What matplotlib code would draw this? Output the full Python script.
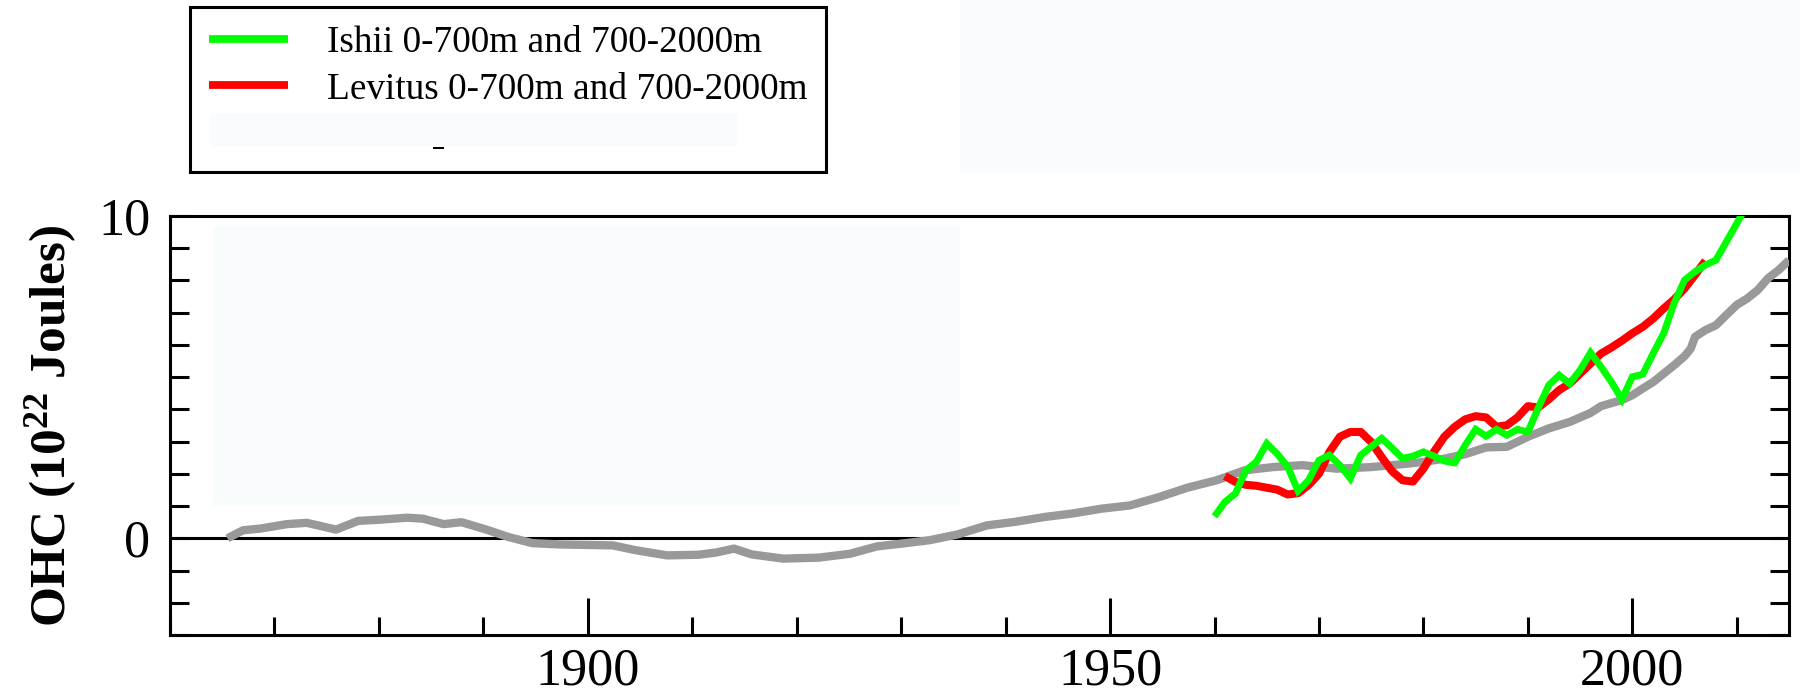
from __future__ import annotations

import matplotlib

matplotlib.use("Agg")
import matplotlib.pyplot as plt
from matplotlib.lines import Line2D
from matplotlib.patches import Rectangle
from matplotlib.ticker import FixedLocator, MultipleLocator

# Long-term ocean heat content reconstruction (10^22 J)
BASE_YEARS = [
    1865.5, 1867.0, 1868.6, 1871.2, 1873.1, 1875.9, 1878.0, 1880.2, 1882.7, 1884.2,
    1886.2, 1887.9, 1890.0, 1892.4, 1894.7, 1897.3, 1902.4, 1904.6, 1907.6, 1910.6,
    1912.3, 1914.0, 1915.7, 1918.7, 1922.1, 1925.1, 1927.7, 1929.9, 1932.7, 1935.4,
    1938.2, 1940.9, 1943.7, 1946.4, 1949.2, 1951.9, 1954.7, 1957.4, 1960.2, 1962.9,
    1965.6, 1968.4, 1971.7, 1975.0, 1978.0, 1980.0, 1982.0, 1984.0, 1986.0, 1988.0,
    1990.0, 1992.0, 1994.0, 1996.0, 1997.0, 1999.0, 2000.0, 2001.0, 2002.0, 2003.0,
    2004.0, 2005.0, 2005.6, 2006.0, 2007.0, 2008.0, 2009.0, 2010.0, 2011.0, 2012.0,
    2013.0, 2014.0, 2015.0,
]
BASE_OHC = [
    0.00, 0.25, 0.30, 0.44, 0.48, 0.27, 0.54, 0.58, 0.64, 0.61,
    0.44, 0.50, 0.30, 0.04, -0.15, -0.19, -0.22, -0.37, -0.53, -0.51,
    -0.44, -0.32, -0.50, -0.63, -0.60, -0.48, -0.25, -0.17, -0.06, 0.12,
    0.40, 0.51, 0.66, 0.77, 0.92, 1.02, 1.28, 1.57, 1.80, 2.11,
    2.21, 2.27, 2.16, 2.21, 2.30, 2.37, 2.47, 2.61, 2.82, 2.84,
    3.15, 3.41, 3.61, 3.89, 4.10, 4.29, 4.44, 4.65, 4.85, 5.11,
    5.37, 5.65, 5.89, 6.25, 6.46, 6.61, 6.93, 7.24, 7.44, 7.70,
    8.07, 8.32, 8.63,
]

ISHII_YEARS = list(range(1960, 2012))
ISHII_OHC = [
    0.68, 1.13, 1.39, 2.11, 2.37, 2.94, 2.62, 2.22, 1.47, 1.80,
    2.42, 2.58, 2.27, 1.86, 2.58, 2.84, 3.10, 2.80, 2.48, 2.55,
    2.68, 2.55, 2.40, 2.34, 2.89, 3.38, 3.17, 3.38, 3.20, 3.38,
    3.30, 4.05, 4.75, 5.06, 4.80, 5.22, 5.76, 5.32, 4.85, 4.31,
    5.01, 5.09, 5.74, 6.36, 7.29, 8.01, 8.27, 8.48, 8.63, 9.20,
    9.77, 10.35,
]

LEVITUS_YEARS = list(range(1961, 2008))
LEVITUS_OHC = [
    1.93, 1.75, 1.66, 1.63, 1.57, 1.51, 1.36, 1.40, 1.65, 2.00,
    2.68, 3.15, 3.30, 3.30, 2.99, 2.52, 2.08, 1.80, 1.76, 2.16,
    2.68, 3.15, 3.46, 3.69, 3.79, 3.75, 3.46, 3.51, 3.75, 4.10,
    4.06, 4.31, 4.60, 4.80, 5.11, 5.42, 5.73, 5.92, 6.13, 6.36,
    6.56, 6.82, 7.13, 7.41, 7.75, 8.17, 8.61,
]

LEGEND_LABELS = ["Ishii 0-700m and 700-2000m", "Levitus 0-700m and 700-2000m"]
X_LABELED_TICKS = [1900, 1950, 2000]
Y_LABELED_TICKS = [0, 10]
Y_LABEL = r"OHC (10$^{22}$ Joules)"

FIG_W, FIG_H, DPI = 1800, 694, 100
SERIF = "Liberation Serif"
PALE = "#f8fcfd"
LW_FRAME = 2.2


def px_box(x0: float, y0: float, x1: float, y1: float) -> tuple[float, float, float, float]:
    """Convert a pixel box (top-left origin) into figure fractions."""
    return x0 / FIG_W, 1 - y1 / FIG_H, (x1 - x0) / FIG_W, (y1 - y0) / FIG_H


def add_pale_box(fig, x0, y0, x1, y1, color=PALE, zorder=6) -> None:
    left, bottom, width, height = px_box(x0, y0, x1, y1)
    fig.add_artist(
        Rectangle((left, bottom), width, height, transform=fig.transFigure,
                  facecolor=color, edgecolor="none", zorder=zorder)
    )


def main() -> None:
    plt.rcParams["font.family"] = [SERIF, "DejaVu Serif"]
    plt.rcParams["mathtext.fontset"] = "custom"
    plt.rcParams["mathtext.rm"] = SERIF
    plt.rcParams["mathtext.bf"] = f"{SERIF}:bold"
    plt.rcParams["mathtext.default"] = "regular"

    fig = plt.figure(figsize=(FIG_W / DPI, FIG_H / DPI), dpi=DPI)
    ax = fig.add_axes(px_box(170, 216, 1789, 635))

    ax.plot(BASE_YEARS, BASE_OHC, color="#999999", lw=6.0, solid_capstyle="butt", zorder=3)
    ax.plot(LEVITUS_YEARS, LEVITUS_OHC, color="#ff0000", lw=5.8, solid_capstyle="butt", zorder=4)
    ax.plot(ISHII_YEARS, ISHII_OHC, color="#00ff00", lw=5.0, solid_capstyle="butt",
            solid_joinstyle="miter", zorder=5)
    ax.axhline(0, color="black", lw=LW_FRAME, zorder=2)

    ax.set_xlim(1860, 2015)
    ax.set_ylim(-3, 10)

    ax.xaxis.set_major_locator(FixedLocator(X_LABELED_TICKS))
    ax.xaxis.set_minor_locator(MultipleLocator(10))
    ax.yaxis.set_major_locator(FixedLocator(Y_LABELED_TICKS))
    ax.yaxis.set_minor_locator(MultipleLocator(1))

    ax.tick_params(axis="both", which="both", direction="in", width=LW_FRAME, color="black")
    ax.tick_params(axis="x", which="major", length=27, pad=9, labelsize=37.5)
    ax.tick_params(axis="x", which="minor", length=13)
    ax.tick_params(axis="y", which="both", length=13.5, right=True, labelright=False)
    ax.tick_params(axis="y", which="major", pad=14, labelsize=37.5)

    for spine in ax.spines.values():
        spine.set_linewidth(LW_FRAME)
        spine.set_color("black")

    ax.set_ylabel(Y_LABEL, fontsize=37, fontweight="bold", family=SERIF)
    ax.yaxis.set_label_coords(-0.056, 0.5)

    handles = [
        Line2D([], [], color="#00ff00", lw=5.6, solid_capstyle="butt"),
        Line2D([], [], color="#ff0000", lw=5.6, solid_capstyle="butt"),
        Line2D([], [], color="none"),
    ]
    legend = fig.legend(
        handles, LEGEND_LABELS + [" "],
        loc="upper left", bbox_to_anchor=(190 / FIG_W, 1 - 7 / FIG_H),
        borderaxespad=0, fontsize=26.8, frameon=True, fancybox=False,
        handlelength=2.13, handletextpad=1.05, borderpad=0.5, labelspacing=0.32,
    )
    frame = legend.get_frame()
    frame.set_edgecolor("black")
    frame.set_linewidth(LW_FRAME)
    frame.set_alpha(1)

    # faint cover boxes laid over the canvas
    add_pale_box(fig, 960, 0, 1800, 173)
    add_pale_box(fig, 213, 226, 960, 506)
    add_pale_box(fig, 210, 113, 737, 147)
    add_pale_box(fig, 433, 147, 444, 149, color="black")

    fig.savefig("out.png", dpi=DPI, facecolor="white")
    plt.close(fig)


if __name__ == "__main__":
    main()
